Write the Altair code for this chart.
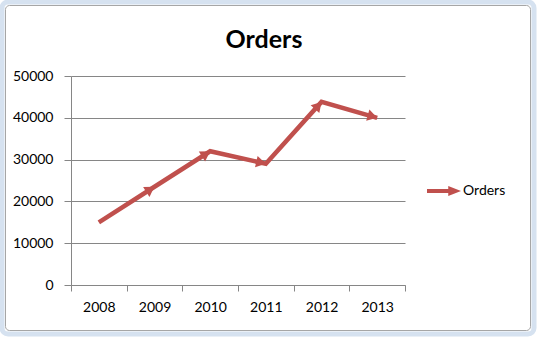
import math
import altair as alt
import pandas as pd

# ---- data ----
years = ["2008", "2009", "2010", "2011", "2012", "2013"]
orders = [15000, 23500, 32000, 29000, 43800, 40000]
series_name = "Orders"
title_text = "Orders"
y_ticks = [0, 10000, 20000, 30000, 40000, 50000]

# ---- layout constants ----
W, H = 334, 209
LEFT, TOP = 71, 76
YMAX = 50000
RED = "#C0504D"
GRID = "#868686"
FONT = "Lato"

step = W / len(years)
rows = []
for i, (yr, v) in enumerate(zip(years, orders)):
    if i == 0:
        ang = 0.0
    else:
        dx = step
        dy = -(v - orders[i - 1]) * H / YMAX
        ang = (math.degrees(math.atan2(dy, dx)) + 360) % 360
    rows.append({"Year": yr, "Orders": v, "Series": series_name,
                 "angle": ang, "head": i > 0})
df = pd.DataFrame(rows)

x_enc = alt.X("Year:N", sort=years, title=None,
              scale=alt.Scale(paddingInner=0, paddingOuter=0),
              axis=alt.Axis(tickBand="extent", labelAngle=0, grid=False,
                            domainColor=GRID, tickColor=GRID, tickSize=6,
                            labelPadding=9, labelFontSize=14, labelFont=FONT,
                            labelColor="black"))
y_enc = alt.Y("Orders:Q", title=None,
              scale=alt.Scale(domain=[0, YMAX], nice=False),
              axis=alt.Axis(values=y_ticks, grid=True, gridColor=GRID, format="d",
                            domainColor=GRID, tickColor=GRID, tickSize=7,
                            labelPadding=11, labelFontSize=14, labelFont=FONT,
                            labelColor="black"))

one = pd.DataFrame({"k": [0]})

# chart-area frame (Excel style selection border), page coords -> plot coords
frame_outer = alt.Chart(one).mark_rect(
    fill=None, stroke="#D6E2F0", strokeWidth=5, cornerRadius=6
).encode(x=alt.value(2 - LEFT), x2=alt.value(534 - LEFT),
         y=alt.value(2 - TOP), y2=alt.value(334 - TOP))
frame_inner = alt.Chart(one).mark_rect(
    fill=None, stroke="#A6A6A6", strokeWidth=1, cornerRadius=4
).encode(x=alt.value(5.5 - LEFT), x2=alt.value(530.5 - LEFT),
         y=alt.value(5.5 - TOP), y2=alt.value(330.5 - TOP))

title = alt.Chart(one).mark_text(
    text=title_text, font=FONT, fontSize=25, fontWeight="bold", color="black",
    align="center", baseline="alphabetic"
).encode(x=alt.value(264 - LEFT), y=alt.value(48 - TOP))

line = alt.Chart(df).mark_line(color=RED, strokeWidth=4.5, strokeCap="butt",
                               strokeJoin="miter").encode(x=x_enc, y=y_enc)

heads = alt.Chart(df).transform_filter("datum.head").mark_point(
    shape="M0,0 L-1,-0.6 L-1,0.6 Z", filled=True, opacity=1, size=380,
    strokeWidth=0
).encode(
    x=x_enc, y=y_enc,
    angle=alt.Angle("angle:Q", scale=None),
    color=alt.Color("Series:N", title=None,
                    scale=alt.Scale(range=[RED]),
                    legend=alt.Legend(
                        orient="none", legendX=356, legendY=98,
                        symbolType="M-1,-0.12 L0.25,-0.12 L0.25,-0.3 L1,0 L0.25,0.3 L0.25,0.12 L-1,0.12 Z",
                        symbolSize=1156, symbolStrokeWidth=0,
                        labelFontSize=14, labelFont=FONT, labelColor="black",
                        labelOffset=2, padding=0)),
)

chart = alt.layer(frame_outer, frame_inner, title, line, heads).properties(
    width=W, height=H,
    autosize=alt.AutoSizeParams(type="none"),
    padding={"left": LEFT, "top": TOP, "right": 537 - LEFT - W, "bottom": 337 - TOP - H},
    background="white",
).configure_view(stroke=None)

chart.save("out.html", embed_options={"renderer": "svg", "actions": False})
